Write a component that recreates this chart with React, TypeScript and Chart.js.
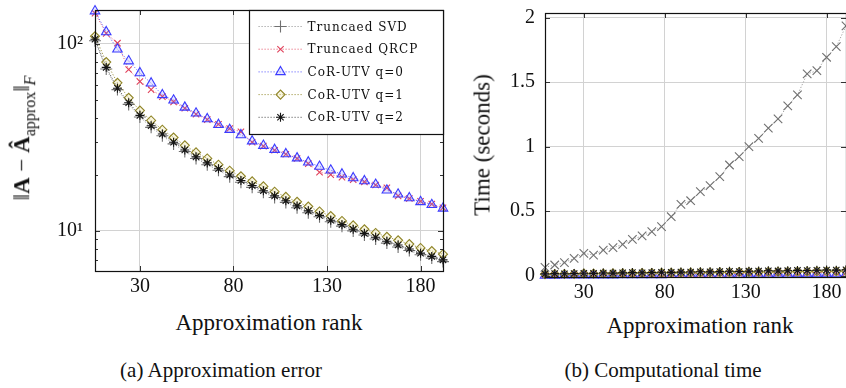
import React, { useEffect, useRef } from "react";
import { Chart, registerables } from "chart.js";
import { drawPoint } from "chart.js/helpers";

Chart.register(...registerables);

const SERIF = '"Liberation Serif", "Times New Roman", serif';
const LEGEND_FONT = '12px "DejaVu Serif"';

// Approximation rank (shared x values of both panels)
const ranks = [
  6, 12, 18, 24, 30, 36, 42, 48, 54, 60, 66, 72, 78, 84, 90, 96,
  102, 108, 114, 120, 126, 132, 138, 144, 150, 156, 162, 168, 174, 180, 186, 192,
];
const rankTicks = [30, 80, 130, 180];

// Panel (a): Frobenius-norm approximation error
const errSvd = [
  104, 73.5, 57, 47.5, 40.7, 35.8, 32.3, 29.2, 26.6, 24.4, 22.6, 21.1, 19.5, 18.2, 17.1, 16.1,
  15.1, 14.2, 13.3, 12.5, 11.9, 11.2, 10.6, 10.0, 9.5, 9.05, 8.6, 8.2, 7.85, 7.45, 7.15, 6.85,
];
const errQrcp = [
  146, 114, 101, 73, 63, 57, 52.3, 49, 45.3, 42.1, 39.4, 37.2, 35.3, 33.9, 29.8, 28.4,
  27.0, 25.7, 24.4, 22.9, 20.6, 20.0, 19.4, 18.8, 18.3, 17.6, 17.0, 15.4, 14.9, 14.4, 13.9, 13.3,
];
const errUtvQ0 = [
  150, 116, 93.7, 81, 70, 61.7, 53.4, 50, 45.8, 42.6, 39.7, 37.0, 34.8, 32.6, 30.2, 28.6,
  27.2, 25.8, 24.5, 23.3, 22.1, 21.1, 20.1, 19.2, 18.5, 17.7, 16.5, 15.7, 15.0, 14.3, 13.8, 13.2,
];
const errUtvQ1 = [
  110, 80, 62, 51.5, 44, 39, 34.8, 31.6, 28.7, 26.3, 24.4, 22.6, 21.0, 19.6, 18.4, 17.3,
  16.2, 15.2, 14.3, 13.5, 12.7, 12.0, 11.3, 10.7, 10.2, 9.75, 9.3, 8.9, 8.5, 8.1, 7.8, 7.5,
];
const errUtvQ2 = [
  106, 75, 58, 48.5, 41.5, 36.5, 33, 29.8, 27.1, 24.9, 23.1, 21.5, 19.9, 18.6, 17.5, 16.4,
  15.4, 14.5, 13.6, 12.8, 12.1, 11.4, 10.8, 10.2, 9.7, 9.25, 8.8, 8.4, 8.0, 7.6, 7.3, 7.0,
];
const errMajorTicks = [10, 100];
const errMinorTicks = [7, 8, 9, 20, 30, 40, 50, 60, 70, 80, 90];

// Panel (b): computational time in seconds
const timeSvd = [
  0.065, 0.083, 0.101, 0.135, 0.173, 0.16, 0.199, 0.217, 0.243, 0.282, 0.308, 0.341, 0.38, 0.457, 0.553, 0.581,
  0.651, 0.698, 0.768, 0.858, 0.923, 1.0, 1.065, 1.143, 1.215, 1.316, 1.401, 1.564, 1.589, 1.693, 1.775, 1.936,
];
const timeQrcp = [
  0.004, 0.005, 0.005, 0.006, 0.007, 0.008, 0.008, 0.009, 0.01, 0.011, 0.011, 0.012, 0.012, 0.013, 0.014, 0.015,
  0.015, 0.016, 0.017, 0.017, 0.018, 0.019, 0.019, 0.02, 0.021, 0.022, 0.022, 0.023, 0.024, 0.024, 0.025, 0.026,
];
const timeUtvQ0 = [
  0.002, 0.002, 0.003, 0.003, 0.003, 0.004, 0.004, 0.004, 0.005, 0.005, 0.006, 0.006, 0.006, 0.007, 0.007, 0.007,
  0.008, 0.008, 0.008, 0.009, 0.009, 0.01, 0.01, 0.01, 0.011, 0.011, 0.012, 0.012, 0.013, 0.013, 0.013, 0.014,
];
const timeUtvQ1 = [
  0.012, 0.013, 0.014, 0.014, 0.016, 0.016, 0.017, 0.018, 0.019, 0.019, 0.021, 0.021, 0.022, 0.023, 0.023, 0.024,
  0.025, 0.025, 0.026, 0.027, 0.028, 0.029, 0.029, 0.03, 0.031, 0.031, 0.032, 0.033, 0.034, 0.034, 0.035, 0.036,
];
const timeUtvQ2 = [
  0.014, 0.016, 0.015, 0.017, 0.019, 0.018, 0.021, 0.02, 0.022, 0.024, 0.023, 0.025, 0.027, 0.026, 0.028, 0.029,
  0.031, 0.03, 0.032, 0.034, 0.033, 0.035, 0.036, 0.038, 0.037, 0.039, 0.041, 0.04, 0.042, 0.044, 0.043, 0.046,
];
const timeTicks = [0, 0.5, 1, 1.5, 2];

const seriesLabels = ["Truncaed SVD", "Truncaed QRCP", "CoR-UTV q=0", "CoR-UTV q=1", "CoR-UTV q=2"];

type Look = { marker: string; color: string; line: string; radius: number; fill: string };
const LOOKS: Look[] = [
  { marker: "cross", color: "#707070", line: "rgba(150,150,150,0.9)", radius: 6, fill: "rgba(0,0,0,0)" },
  { marker: "crossRot", color: "#e0405a", line: "rgba(230,90,110,0.9)", radius: 4.5, fill: "rgba(0,0,0,0)" },
  { marker: "triangle", color: "#3b3bff", line: "rgba(90,90,255,0.9)", radius: 5.5, fill: "rgba(120,120,255,0.18)" },
  { marker: "rectRot", color: "#8f8426", line: "rgba(150,140,50,0.9)", radius: 4.5, fill: "rgba(235,225,160,0.3)" },
  { marker: "star", color: "#151515", line: "rgba(70,70,70,0.85)", radius: 4.5, fill: "rgba(0,0,0,0)" },
];

function makeDatasets(series: number[][], markers?: string[]) {
  return series.map((vals, i) => {
    const look = LOOKS[i];
    const marker = markers ? markers[i] : look.marker;
    return {
      label: seriesLabels[i],
      data: ranks.map((r, j) => ({ x: r, y: vals[j] })),
      borderColor: look.line,
      borderWidth: 1,
      borderDash: [1.2, 1.8],
      pointStyle: marker,
      pointRadius: look.radius,
      pointHoverRadius: look.radius,
      pointBorderColor: look.color,
      pointBackgroundColor: look.fill,
      pointBorderWidth: 1.1,
      tension: 0,
      clip: false,
      order: 4 - i,
    };
  });
}

// Axis box with inward tick marks, plus an optional in-plot legend
const framePlugin = {
  id: "frame",
  afterDraw(chart: any, _args: any, opts: any) {
    const { ctx, chartArea: a, scales } = chart;
    const line = (x1: number, y1: number, x2: number, y2: number) => {
      ctx.beginPath();
      ctx.moveTo(x1, y1);
      ctx.lineTo(x2, y2);
      ctx.stroke();
    };
    ctx.save();
    ctx.strokeStyle = "#333";
    ctx.lineWidth = 1;
    scales.x.ticks.forEach((t: any) => {
      const px = Math.round(scales.x.getPixelForValue(t.value)) + 0.5;
      line(px, a.bottom, px, a.bottom - 5);
      line(px, a.top, px, a.top + 5);
    });
    scales.y.ticks.forEach((t: any) => {
      const py = Math.round(scales.y.getPixelForValue(t.value)) + 0.5;
      line(a.left, py, a.left + 5, py);
      line(a.right, py, a.right - 5, py);
    });
    (opts.minor || []).forEach((v: number) => {
      const py = Math.round(scales.y.getPixelForValue(v)) + 0.5;
      line(a.left, py, a.left + 3, py);
      line(a.right, py, a.right - 3, py);
    });
    ctx.strokeStyle = "#111";
    ctx.lineWidth = 1.2;
    ctx.strokeRect(Math.round(a.left) + 0.5, Math.round(a.top) + 0.5, Math.round(a.right - a.left), Math.round(a.bottom - a.top));

    if (opts.legend) {
      const w = 194;
      const h = 124;
      const x0 = Math.round(a.right) - w + 0.5;
      const y0 = Math.round(a.top) + 0.5;
      ctx.fillStyle = "#fff";
      ctx.fillRect(x0, y0, w, h);
      ctx.strokeStyle = "#111";
      ctx.lineWidth = 1.2;
      ctx.strokeRect(x0, y0, w, h);
      chart.data.datasets.forEach((ds: any, i: number) => {
        const cy = y0 + 16 + i * 22.7;
        ctx.setLineDash(ds.borderDash);
        ctx.strokeStyle = ds.borderColor;
        ctx.lineWidth = ds.borderWidth;
        line(x0 + 9, cy, x0 + 53, cy);
        ctx.setLineDash([]);
        ctx.strokeStyle = ds.pointBorderColor;
        ctx.fillStyle = ds.pointBackgroundColor;
        ctx.lineWidth = ds.pointBorderWidth;
        drawPoint(ctx, { pointStyle: ds.pointStyle, radius: ds.pointRadius, borderWidth: ds.pointBorderWidth, rotation: 0 } as any, x0 + 31, cy);
        ctx.fillStyle = "#111";
        ctx.font = LEGEND_FONT;
        (ctx as any).letterSpacing = "1px";
        ctx.textBaseline = "middle";
        ctx.textAlign = "left";
        ctx.fillText(ds.label, x0 + 58, cy + 1);
        (ctx as any).letterSpacing = "0px";
      });
    }
    ctx.restore();
  },
};

const gridColor = "#d2d2d2";
const tickFont = { family: SERIF, size: 20 };

// fixed scale sizes so the plot area sits exactly where the layout padding puts it
const fixVertical = (w: number) => (s: any) => {
  s.width = w;
  s.paddingTop = 0;
  s.paddingBottom = 0;
  s.paddingLeft = 0;
  s.paddingRight = 0;
};
const fixHorizontal = (h: number) => (s: any) => {
  s.height = h;
  s.paddingTop = 0;
  s.paddingBottom = 0;
  s.paddingLeft = 0;
  s.paddingRight = 0;
};

function errorConfig(): any {
  return {
    type: "line",
    data: { datasets: makeDatasets([errSvd, errQrcp, errUtvQ0, errUtvQ1, errUtvQ2]) },
    options: {
      animation: false,
      responsive: false,
      events: [],
      layout: { padding: { top: 10, right: 17, left: 0, bottom: 0 } },
      plugins: { legend: { display: false }, tooltip: { enabled: false }, frame: { minor: errMinorTicks, legend: true } },
      scales: {
        x: {
          type: "linear",
          min: 6,
          max: 192,
          afterBuildTicks: (s: any) => {
            s.ticks = rankTicks.map((v) => ({ value: v }));
          },
          afterFit: fixHorizontal(29),
          grid: { color: gridColor, drawTicks: false },
          border: { display: false },
          ticks: { color: "#111", font: tickFont, padding: 4, maxRotation: 0, autoSkip: false },
        },
        y: {
          type: "logarithmic",
          min: 6.1,
          max: 152,
          afterBuildTicks: (s: any) => {
            s.ticks = errMajorTicks.map((v) => ({ value: v }));
          },
          afterFit: fixVertical(95),
          grid: { color: gridColor, drawTicks: false },
          border: { display: false },
          ticks: {
            color: "#111",
            font: tickFont,
            padding: 12,
            callback: (v: number) => (v === 100 ? "10²" : v === 10 ? "10¹" : ""),
          },
        },
      },
    },
    plugins: [framePlugin],
  };
}

function timeConfig(): any {
  return {
    type: "line",
    data: {
      datasets: makeDatasets([timeSvd, timeQrcp, timeUtvQ0, timeUtvQ1, timeUtvQ2], [
        "crossRot",
        "crossRot",
        "triangle",
        "rectRot",
        "star",
      ]),
    },
    options: {
      animation: false,
      responsive: false,
      events: [],
      layout: { padding: { top: 13, right: 24, left: 0, bottom: 0 } },
      plugins: { legend: { display: false }, tooltip: { enabled: false }, frame: {} },
      scales: {
        x: {
          type: "linear",
          min: 6,
          max: 192,
          afterBuildTicks: (s: any) => {
            s.ticks = rankTicks.map((v) => ({ value: v }));
          },
          afterFit: fixHorizontal(23),
          grid: { color: gridColor, drawTicks: false },
          border: { display: false },
          ticks: { color: "#111", font: tickFont, padding: 4, maxRotation: 0, autoSkip: false },
        },
        y: {
          type: "linear",
          min: -0.01,
          max: 2.036,
          afterBuildTicks: (s: any) => {
            s.ticks = timeTicks.map((v) => ({ value: v }));
          },
          afterFit: fixVertical(95),
          grid: { color: gridColor, drawTicks: false },
          border: { display: false },
          ticks: { color: "#111", font: tickFont, padding: 10, callback: (v: number) => String(v) },
        },
      },
    },
    plugins: [framePlugin],
  };
}

function ChartCanvas({ make, left, top, width, height }: { make: () => any; left: number; top: number; width: number; height: number }) {
  const ref = useRef<HTMLCanvasElement>(null);
  useEffect(() => {
    let alive = true;
    const chart = new Chart(ref.current as HTMLCanvasElement, make());
    // redraw once the canvas fonts are available
    Promise.all([
      document.fonts.load('20px "Liberation Serif"'),
      document.fonts.load(LEGEND_FONT),
    ])
      .catch(() => undefined)
      .then(() => {
        if (alive) chart.update();
      });
    return () => {
      alive = false;
      chart.destroy();
    };
  }, []);
  return (
    <canvas
      ref={ref}
      width={width}
      height={height}
      style={{ position: "absolute", left, top, width, height }}
    />
  );
}

const textBase: React.CSSProperties = {
  position: "absolute",
  fontFamily: SERIF,
  color: "#111",
  whiteSpace: "nowrap",
  lineHeight: 1,
};

function Label({ x, y, size, rotate, children }: { x: number; y: number; size: number; rotate?: boolean; children: React.ReactNode }) {
  return (
    <div
      style={{
        ...textBase,
        left: x,
        top: y,
        fontSize: size,
        transform: `translate(-50%, -50%)${rotate ? " rotate(-90deg)" : ""}`,
      }}
    >
      {children}
    </div>
  );
}

export default function App() {
  return (
    <div style={{ position: "absolute", left: 0, top: 0, width: 846, height: 388, overflow: "hidden", background: "#fff" }}>
      <ChartCanvas make={errorConfig} left={0} top={0} width={460} height={300} />
      <ChartCanvas make={timeConfig} left={450} top={0} width={420} height={300} />

      <Label x={24} y={138} size={23} rotate>
        ‖<b>A</b> − <b>Â</b>
        <sub style={{ fontSize: 16 }}>approx</sub>‖<sub style={{ fontSize: 16, fontStyle: "italic" }}>F</sub>
      </Label>
      <Label x={269} y={322} size={23}>Approximation rank</Label>
      <Label x={221} y={370} size={21}>(a) Approximation error</Label>

      <Label x={482} y={145} size={23} rotate>Time (seconds)</Label>
      <Label x={700} y={325} size={23}>Approximation rank</Label>
      <Label x={663} y={370} size={21}>(b) Computational time</Label>
    </div>
  );
}
